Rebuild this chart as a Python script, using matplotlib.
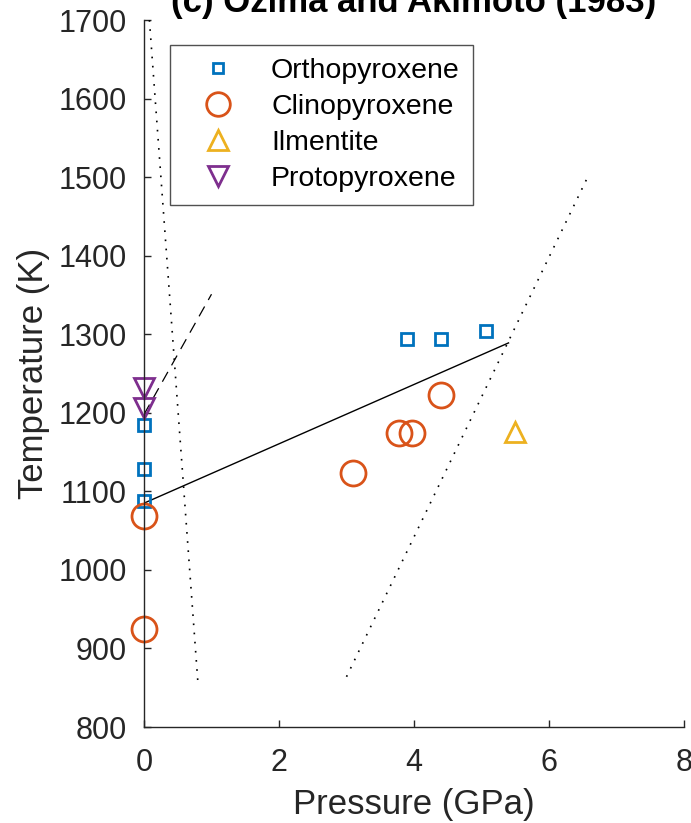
import matplotlib
matplotlib.use('Agg')
import matplotlib.pyplot as plt
from matplotlib.lines import Line2D

plt.rcParams['font.family'] = ['Liberation Sans', 'DejaVu Sans']

# Data (pressure in GPa, temperature in K)
opx_p = [0.0, 0.0, 0.0, 3.9, 4.4, 5.07]
opx_t = [1185, 1128, 1088, 1294, 1294, 1304]

cpx_p = [0.0, 0.0, 3.1, 3.78, 3.97, 4.4]
cpx_t = [1069, 925, 1123, 1174, 1174, 1223]

ilm_p = [5.5]
ilm_t = [1176]

ppx_p = [0.0, 0.0]
ppx_t = [1231, 1206]

# phase boundaries
solid_p = [0.0, 5.4]
solid_t = [1085, 1289]
dash_p = [0.0, 1.0]
dash_t = [1198, 1351]
dotl_p = [0.08, 0.8]
dotl_t = [1700, 855]
dotr_p = [3.0, 6.6]
dotr_t = [864, 1505]

c_opx = '#0072BD'
c_cpx = '#D95319'
c_ilm = '#EDB120'
c_ppx = '#7E2F8E'
axc = '#262626'

fig = plt.figure(figsize=(6.91, 8.23), dpi=100)
ax = fig.add_axes([0.2084, 0.1166, 0.7815, 0.859])

ax.plot(solid_p, solid_t, color='k', lw=1.0)
ax.plot(dash_p, dash_t, color='k', lw=0.9, linestyle=(0, (9, 6)))
ax.plot(dotl_p, dotl_t, color='k', lw=1.2, linestyle=(0, (1, 4.5)))
ax.plot(dotr_p, dotr_t, color='k', lw=1.2, linestyle=(0, (1, 4.5)))

ax.plot(opx_p, opx_t, 's', ms=9, mfc='none', mec=c_opx, mew=2, clip_on=False)
ax.plot(cpx_p, cpx_t, 'o', ms=18, mfc='none', mec=c_cpx, mew=2, clip_on=False)
ax.plot(ilm_p, ilm_t, '^', ms=15, mfc='none', mec=c_ilm, mew=2, clip_on=False)
ax.plot(ppx_p, ppx_t, 'v', ms=15, mfc='none', mec=c_ppx, mew=2, clip_on=False)

ax.set_xlim(0, 8)
ax.set_ylim(800, 1700)
ax.set_xticks([0, 2, 4, 6, 8])
ax.set_yticks(range(800, 1701, 100))

for s in ['top', 'right']:
    ax.spines[s].set_visible(False)
for s in ['left', 'bottom']:
    ax.spines[s].set_color(axc)
    ax.spines[s].set_linewidth(1.0)
ax.tick_params(direction='in', length=5, width=1.0, color=axc,
               labelcolor=axc, labelsize=22)
ax.tick_params(axis='x', pad=15)
ax.tick_params(axis='y', pad=12.5)

ax.set_xlabel('Pressure (GPa)', fontsize=25, color=axc, labelpad=7)
ax.set_ylabel('Temperature (K)', fontsize=25, color=axc, labelpad=6)
ax.set_title('(c) Ozima and Akimoto (1983)', fontsize=25, fontweight='bold',
             pad=6)

handles = [
    Line2D([], [], ls='none', marker='s', ms=7, mfc='none', mec=c_opx, mew=2),
    Line2D([], [], ls='none', marker='o', ms=17, mfc='none', mec=c_cpx, mew=2),
    Line2D([], [], ls='none', marker='^', ms=14, mfc='none', mec=c_ilm, mew=2),
    Line2D([], [], ls='none', marker='v', ms=14, mfc='none', mec=c_ppx, mew=2),
]
labels = ['Orthopyroxene', 'Clinopyroxene', 'Ilmentite', 'Protopyroxene']
leg = ax.legend(handles, labels, loc='upper left', bbox_to_anchor=(0.048, 0.965),
                borderaxespad=0, fontsize=20.5, frameon=True, fancybox=False,
                handlelength=2.5, handletextpad=0.6, labelspacing=0.36,
                borderpad=0.45)
leg.get_frame().set_edgecolor(axc)
leg.get_frame().set_linewidth(1.0)

fig.savefig('out.png', dpi=100)
